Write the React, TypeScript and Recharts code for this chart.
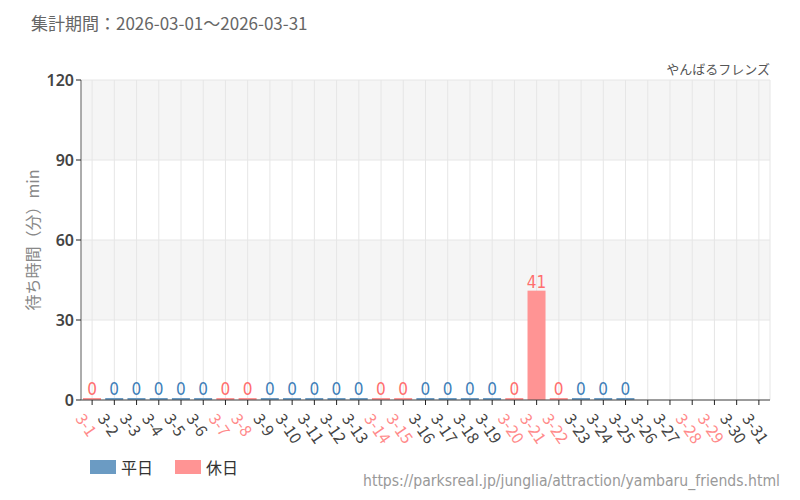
import React from 'react';
import {
  BarChart,
  Bar,
  Cell,
  XAxis,
  YAxis,
  CartesianGrid,
  LabelList,
} from 'recharts';

const days = [
  '3-1', '3-2', '3-3', '3-4', '3-5', '3-6', '3-7', '3-8', '3-9', '3-10',
  '3-11', '3-12', '3-13', '3-14', '3-15', '3-16', '3-17', '3-18', '3-19', '3-20',
  '3-21', '3-22', '3-23', '3-24', '3-25', '3-26', '3-27', '3-28', '3-29', '3-30', '3-31',
];

const waits: (number | null)[] = [
  0, 0, 0, 0, 0, 0, 0, 0, 0, 0,
  0, 0, 0, 0, 0, 0, 0, 0, 0, 0,
  41, 0, 0, 0, 0, null, null, null, null, null, null,
];

const holidays = ['3-1', '3-7', '3-8', '3-14', '3-15', '3-20', '3-21', '3-22', '3-28', '3-29'];

const yTicks = [0, 30, 60, 90, 120];

const WEEKDAY = '#6b9bc3';
const HOLIDAY = '#ff9494';

const legendItems = [
  { name: '平日', color: WEEKDAY },
  { name: '休日', color: HOLIDAY },
];

const JP = '"Noto Sans CJK JP", "Noto Sans", sans-serif';
const NARROW = '"Liberation Sans Narrow", "DejaVu Sans Condensed", sans-serif';

const chartData = days.map((day, i) => ({
  day,
  value: waits[i],
  holiday: holidays.includes(day),
}));

const DayTick = (props: any) => {
  const { x, y, payload } = props;
  const isHoliday = holidays.includes(payload.value);
  return (
    <text
      transform={`translate(${x - 5}, ${y + 3}) rotate(55)`}
      textAnchor="start"
      dominantBaseline="hanging"
      fontSize={16}
      fontFamily={JP}
      fill={isHoliday ? '#ff8a8a' : '#444'}
    >
      {payload.value}
    </text>
  );
};

const BarShape = (props: any) => {
  const { x, y, width, height, fill, payload } = props;
  if (payload.value == null) return null;
  return <rect x={x} y={y} width={width} height={height} fill={fill} />;
};

const ValueLabel = (props: any) => {
  const { x, y, width, value, index } = props;
  if (value == null) return null;
  const isHoliday = chartData[index].holiday;
  return (
    <text
      x={x + width / 2}
      y={y - 3}
      textAnchor="middle"
      fontSize={17}
      fontFamily={NARROW}
      fill={isHoliday ? '#ff6e6e' : '#3f7fb9'}
    >
      {value}
    </text>
  );
};

export default function App() {
  return (
    <div style={{ position: 'absolute', left: 0, top: 0, width: 800, height: 500, background: '#fff' }}>
      <div style={{ position: 'absolute', left: 31, top: 10, fontSize: 17, color: '#666', fontFamily: JP }}>
        集計期間：2026-03-01～2026-03-31
      </div>
      <div style={{ position: 'absolute', right: 30, top: 59, fontSize: 13, color: '#555', fontFamily: JP }}>
        やんばるフレンズ
      </div>
      <div
        style={{
          position: 'absolute',
          left: 32,
          top: 240,
          transform: 'translate(-50%, -50%) rotate(-90deg)',
          whiteSpace: 'nowrap',
          fontSize: 16,
          color: '#888',
          fontFamily: JP,
        }}
      >
        待ち時間（分）min
      </div>

      <BarChart
        width={800}
        height={500}
        data={chartData}
        margin={{ top: 80, right: 30, left: 31, bottom: 50 }}
      >
        <CartesianGrid
          stroke="#e6e6e6"
          horizontalFill={['#f5f5f5', '#ffffff']}
        />
        <XAxis
          dataKey="day"
          interval={0}
          height={50}
          axisLine={{ stroke: '#444' }}
          tickLine={{ stroke: '#222' }}
          tickSize={5}
          tick={<DayTick />}
        />
        <YAxis
          width={50}
          domain={[0, 120]}
          ticks={yTicks}
          axisLine={{ stroke: '#666' }}
          tickLine={{ stroke: '#222' }}
          tickSize={5}
          tick={{ fill: '#444', fontSize: 16, fontFamily: '"Noto Sans", sans-serif', fontWeight: 600 }}
        />
        <Bar
          dataKey="value"
          barSize={18}
          minPointSize={2}
          shape={<BarShape />}
          isAnimationActive={false}
        >
          {chartData.map((d) => (
            <Cell key={d.day} fill={d.holiday ? HOLIDAY : WEEKDAY} />
          ))}
          <LabelList dataKey="value" content={<ValueLabel />} />
        </Bar>
      </BarChart>

      <svg style={{ position: 'absolute', left: 0, top: 450 }} width={260} height={30}>
        {legendItems.map((item, i) => (
          <g key={item.name} transform={`translate(${90 + i * 85}, 0)`}>
            <rect x={0} y={10} width={26} height={14} fill={item.color} />
            <text
              x={31}
              y={17}
              dominantBaseline="central"
              fontSize={16}
              fontFamily={JP}
              fill="#333"
            >
              {item.name}
            </text>
          </g>
        ))}
      </svg>
      <div style={{ position: 'absolute', right: 20, top: 472, fontSize: 15.6, color: '#999', fontFamily: NARROW }}>
        https://parksreal.jp/junglia/attraction/yambaru_friends.html
      </div>
    </div>
  );
}
